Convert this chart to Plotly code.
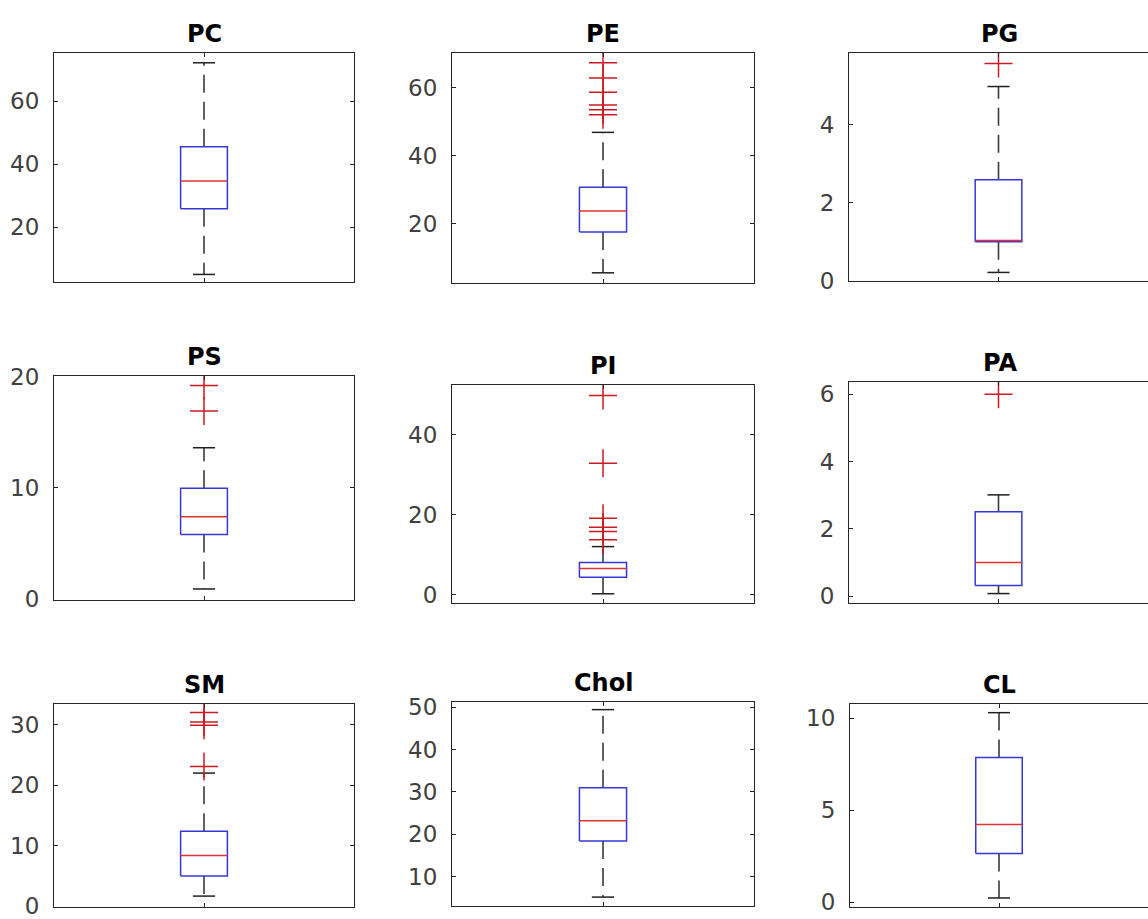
import plotly.graph_objects as go

# ---------------- data ----------------
names = ["PC", "PE", "PG", "PS", "PI", "PA", "SM", "Chol", "CL"]
lower_whisker = [5.1, 5.5, 0.21, 0.9, 0.2, 0.08, 1.7, 5.2, 0.24]
q1 = [25.9, 17.5, 1.0, 5.8, 4.35, 0.32, 5.0, 18.4, 2.65]
median = [34.7, 23.7, 1.03, 7.4, 6.5, 1.0, 8.4, 23.2, 4.23]
q3 = [45.6, 30.7, 2.59, 9.95, 8.0, 2.51, 12.4, 31.0, 7.87]
upper_whisker = [72.2, 46.9, 4.98, 13.6, 12.0, 3.01, 22.0, 49.4, 10.3]
outliers_PC = []
outliers_PE = [67.4, 62.9, 58.7, 55.0, 53.6, 52.1]
outliers_PG = [5.57]
outliers_PS = [19.2, 16.9]
outliers_PI = [49.75, 32.85, 19.1, 16.85, 15.75, 13.7]
outliers_PA = [6.0]
outliers_SM = [32.0, 30.45, 29.9, 23.1]
outliers_Chol = []
outliers_CL = []
outliers = [outliers_PC, outliers_PE, outliers_PG, outliers_PS, outliers_PI,
            outliers_PA, outliers_SM, outliers_Chol, outliers_CL]
tick_values = [[20, 40, 60], [20, 40, 60], [0, 2, 4], [0, 10, 20], [0, 20, 40],
               [0, 2, 4, 6], [0, 10, 20, 30], [10, 20, 30, 40, 50], [0, 5, 10]]
y_ranges = [[2.7, 75.3], [2.5, 70.3], [-0.01, 5.84], [-0.05, 20.05], [-2.1, 52.4],
            [-0.2, 6.36], [-0.1, 33.4], [3.1, 51.2], [-0.25, 10.77]]

# ---------------- layout geometry (pixels) ----------------
W, H = 1148, 919
# (left, right, top, bottom)
boxes_px = [
    (54, 354, 53, 282), (452, 754, 53, 283), (849, 1148, 53, 281),
    (54, 354, 376, 599.5), (452, 754, 385, 603), (849, 1148, 382, 603),
    (54, 354, 704, 907), (452, 754, 702, 906), (850, 1148, 704, 907),
]

BOX_HALF = 0.078
CAP_HALF = 0.037
BLUE = "rgb(55,55,215)"
RED = "rgb(225,50,50)"
OUT_RED = "rgb(205,25,35)"
WHISK = "#3a3a3a"
FRAME = "#262626"
TICK_FONT = "DejaVu Sans, Liberation Sans, Arial, sans-serif"
TITLE_FONT = "DejaVu Sans, Liberation Sans, Arial, sans-serif"

fig = go.Figure()
layout = dict(
    width=W, height=H,
    margin=dict(l=0, r=0, t=0, b=0, autoexpand=False),
    paper_bgcolor="white", plot_bgcolor="white",
    showlegend=False,
    font=dict(family=TICK_FONT, size=23, color="#404040"),
    annotations=[],
)

for i, name in enumerate(names):
    s = "" if i == 0 else str(i + 1)
    xa, ya = "x" + s, "y" + s
    lo, a, m, b, hi = lower_whisker[i], q1[i], median[i], q3[i], upper_whisker[i]
    common = dict(xaxis=xa, yaxis=ya, hoverinfo="skip", showlegend=False)
    # whiskers (dashed)
    fig.add_trace(go.Scatter(x=[0, 0], y=[b, hi], mode="lines",
                             line=dict(color=WHISK, width=1.6, dash="18px,9px"), **common))
    fig.add_trace(go.Scatter(x=[0, 0], y=[a, lo], mode="lines",
                             line=dict(color=WHISK, width=1.6, dash="18px,9px"), **common))
    # caps
    fig.add_trace(go.Scatter(x=[-CAP_HALF, CAP_HALF, None, -CAP_HALF, CAP_HALF],
                             y=[lo, lo, None, hi, hi], mode="lines",
                             line=dict(color="#202020", width=1.5), **common))
    # box
    fig.add_trace(go.Scatter(x=[-BOX_HALF, BOX_HALF, BOX_HALF, -BOX_HALF, -BOX_HALF],
                             y=[a, a, b, b, a], mode="lines",
                             line=dict(color=BLUE, width=1.5), **common))
    # median
    fig.add_trace(go.Scatter(x=[-BOX_HALF, BOX_HALF], y=[m, m], mode="lines",
                             line=dict(color=RED, width=1.5), **common))
    # outliers
    if outliers[i]:
        fig.add_trace(go.Scatter(x=[0] * len(outliers[i]), y=outliers[i], mode="markers",
                                 marker=dict(symbol="cross-thin", size=20,
                                             line=dict(color=OUT_RED, width=1.5)),
                                 **common))

    l, r, t, btm = boxes_px[i]
    xd = [l / W, min(r / W, 1.0)]
    yd = [1 - btm / H, 1 - t / H]
    right_col = (i % 3 == 2)
    layout["xaxis" + s] = dict(
        domain=xd, anchor=ya, range=[-0.5, 0.5], showgrid=False, zeroline=False,
        showline=True, linecolor=FRAME, linewidth=1, mirror="ticks",
        ticks="inside", ticklen=4, tickcolor=FRAME, tickvals=[0],
        showticklabels=False, fixedrange=True, automargin=False,
    )
    layout["yaxis" + s] = dict(
        domain=yd, anchor=xa, range=y_ranges[i], showgrid=False, zeroline=False,
        showline=True, linecolor=FRAME, linewidth=1,
        mirror=False if right_col else "ticks",
        ticks="inside", ticklen=4, tickcolor=FRAME, tickvals=tick_values[i],
        tickfont=dict(family=TICK_FONT, size=23, color="#404040"),
        ticklabelstandoff=9, ticklabeloverflow="allow",
        fixedrange=True, automargin=False,
    )
    cx = (l + (r if not right_col else 1150)) / 2 / W
    layout["annotations"].append(dict(
        text="<b>%s</b>" % name, x=cx, y=yd[1], xref="paper", yref="paper",
        xanchor="center", yanchor="bottom", yshift=3, showarrow=False,
        font=dict(family=TITLE_FONT, size=24, color="black"),
    ))

fig.update_layout(**layout)
fig.write_html("out.html")
